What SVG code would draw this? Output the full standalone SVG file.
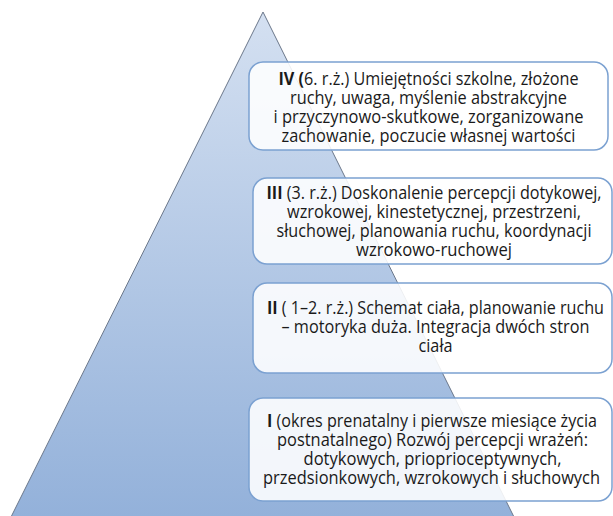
<svg xmlns="http://www.w3.org/2000/svg" width="613" height="516" viewBox="0 0 613 516">
<defs>
<linearGradient id="tri" x1="0" y1="0" x2="0" y2="1">
<stop offset="0" stop-color="#d4e0f1"/>
<stop offset="1" stop-color="#93b1da"/>
</linearGradient>
<style>
.box{fill:#ffffff;fill-opacity:0.88;stroke:#7ba1d1;stroke-width:1.5}
.t{font-family:"Open Sans","Noto Sans","Liberation Sans",sans-serif;font-size:17.5px;fill:#1a1a1a;text-anchor:middle}
.b{font-weight:bold}
</style>
</defs>
<rect width="613" height="516" fill="#ffffff"/>
<g id="pyramid">
<polygon points="263,12 11,517 514,517" fill="url(#tri)" stroke="#6b778a" stroke-width="1"/>
</g>
<g id="connectors"></g>
<g id="level4">
<rect class="box" x="249" y="62" width="359" height="88" rx="14"/>
<text class="t" x="428.5" y="85" textLength="300" lengthAdjust="spacingAndGlyphs"><tspan class="b">IV (</tspan>6. r.ż.) Umiejętności szkolne, złożone</text>
<text class="t" x="428.5" y="104" textLength="277" lengthAdjust="spacingAndGlyphs">ruchy, uwaga, myślenie abstrakcyjne</text>
<text class="t" x="428.5" y="123" textLength="310" lengthAdjust="spacingAndGlyphs">i przyczynowo-skutkowe, zorganizowane</text>
<text class="t" x="428.5" y="142" textLength="294" lengthAdjust="spacingAndGlyphs">zachowanie, poczucie własnej wartości</text>
</g>
<g id="level3">
<rect class="box" x="253" y="178" width="359" height="86" rx="14"/>
<text class="t" x="434" y="199" textLength="335" lengthAdjust="spacingAndGlyphs"><tspan class="b">III</tspan> (3. r.ż.) Doskonalenie percepcji dotykowej,</text>
<text class="t" x="434" y="218" textLength="294" lengthAdjust="spacingAndGlyphs">wzrokowej, kinestetycznej, przestrzeni,</text>
<text class="t" x="434" y="237" textLength="315" lengthAdjust="spacingAndGlyphs">słuchowej, planowania ruchu, koordynacji</text>
<text class="t" x="434" y="256" textLength="156" lengthAdjust="spacingAndGlyphs">wzrokowo-ruchowej</text>
</g>
<g id="level2">
<rect class="box" x="253" y="283" width="359" height="90" rx="14"/>
<text class="t" x="435.5" y="314" textLength="337" lengthAdjust="spacingAndGlyphs"><tspan class="b">II</tspan> ( 1–2. r.ż.) Schemat ciała, planowanie ruchu</text>
<text class="t" x="435.5" y="333" textLength="308" lengthAdjust="spacingAndGlyphs">– motoryka duża. Integracja dwóch stron</text>
<text class="t" x="435.5" y="352" textLength="34" lengthAdjust="spacingAndGlyphs">ciała</text>
</g>
<g id="level1">
<rect class="box" x="249" y="398" width="363" height="103" rx="14"/>
<text class="t" x="432" y="427" textLength="330" lengthAdjust="spacingAndGlyphs"><tspan class="b">I</tspan> (okres prenatalny i pierwsze miesiące życia</text>
<text class="t" x="432.5" y="446" textLength="311" lengthAdjust="spacingAndGlyphs">postnatalnego) Rozwój percepcji wrażeń:</text>
<text class="t" x="432.5" y="465" textLength="258" lengthAdjust="spacingAndGlyphs">dotykowych, prioprioceptywnych,</text>
<text class="t" x="431.5" y="484" textLength="337" lengthAdjust="spacingAndGlyphs">przedsionkowych, wzrokowych i słuchowych</text>
</g>
</svg>
